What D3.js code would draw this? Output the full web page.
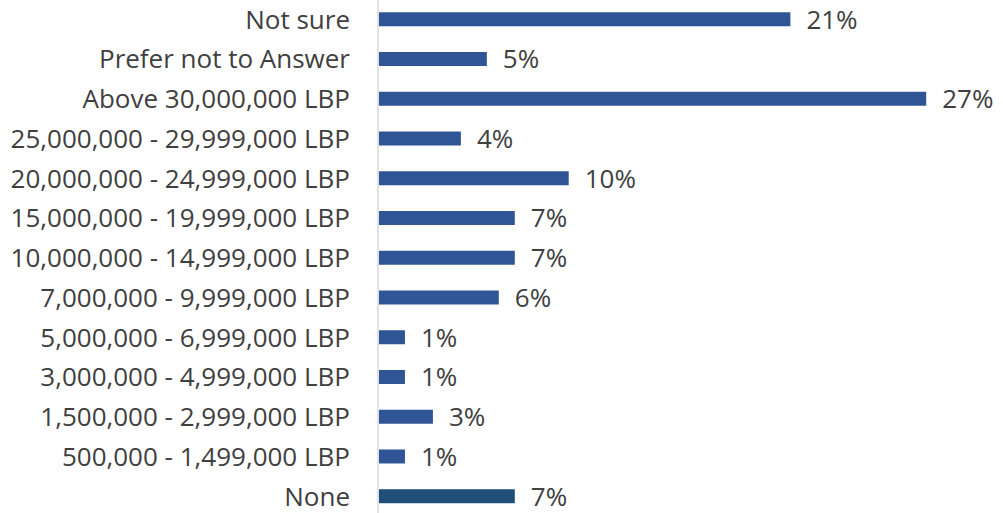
<!DOCTYPE html>
<html>
<head>
<meta charset="utf-8">
<script src="https://cdn.jsdelivr.net/npm/d3@7"></script>
<style>
  html, body { margin: 0; padding: 0; background: #fff; }
  svg text { font-family: 'Open Sans', sans-serif; fill: #404040; }
</style>
</head>
<body>
<svg id="chart" width="1003" height="513"></svg>
<script>
// categories top to bottom, as in the picture
const categories = [
  'Not sure',
  'Prefer not to Answer',
  'Above 30,000,000 LBP',
  '25,000,000 - 29,999,000 LBP',
  '20,000,000 - 24,999,000 LBP',
  '15,000,000 - 19,999,000 LBP',
  '10,000,000 - 14,999,000 LBP',
  '7,000,000 - 9,999,000 LBP',
  '5,000,000 - 6,999,000 LBP',
  '3,000,000 - 4,999,000 LBP',
  '1,500,000 - 2,999,000 LBP',
  '500,000 - 1,499,000 LBP',
  'None',
]
// share of respondents in %
const shares = [20.6, 5.4, 27.4, 4.1, 9.5, 6.8, 6.8, 6.0, 1.3, 1.3, 2.7, 1.3, 6.8]
const barColors = ['#2F5597', '#2F5597', '#2F5597', '#2F5597', '#2F5597', '#2F5597', '#2F5597',
  '#2F5597', '#2F5597', '#2F5597', '#2F5597', '#2F5597', '#1F4E79']

const data = categories.map((c, i) => ({ cat: c, value: shares[i], color: barColors[i] }))

const svg = d3.select('#chart'),
  axisX = 379

const x = d3.scaleLinear()
    .domain([0, 30])
    .range([axisX, axisX + 30 * 19.97])

const y = d3.scaleBand()
    .domain(categories)
    .range([-0.6, 516.1])
    .paddingInner(0.648)
    .paddingOuter(0.324)

// bars
svg.append('g')
  .selectAll('rect')
  .data(data)
  .join('rect')
    .attr('x', x(0))
    .attr('y', (d) => y(d.cat))
    .attr('width', (d) => x(d.value) - x(0))
    .attr('height', y.bandwidth())
    .attr('fill', (d) => d.color)

// vertical axis line
svg.append('line')
    .attr('x1', axisX - 1).attr('x2', axisX - 1)
    .attr('y1', 0).attr('y2', 513)
    .attr('stroke', '#d9d9d9')
    .attr('stroke-width', 1.5)

// category labels
svg.append('g')
  .selectAll('text')
  .data(data)
  .join('text')
    .attr('x', 350)
    .attr('y', (d) => y(d.cat) + y.bandwidth() / 2)
    .attr('dy', '0.36em')
    .attr('text-anchor', 'end')
    .attr('font-size', 26)
    .text((d) => d.cat)

// value labels
svg.append('g')
  .selectAll('text')
  .data(data)
  .join('text')
    .attr('x', (d) => x(d.value) + 16)
    .attr('y', (d) => y(d.cat) + y.bandwidth() / 2)
    .attr('dy', '0.36em')
    .attr('font-size', 26)
    .text((d) => Math.round(d.value) + '%')
</script>
</body>
</html>
